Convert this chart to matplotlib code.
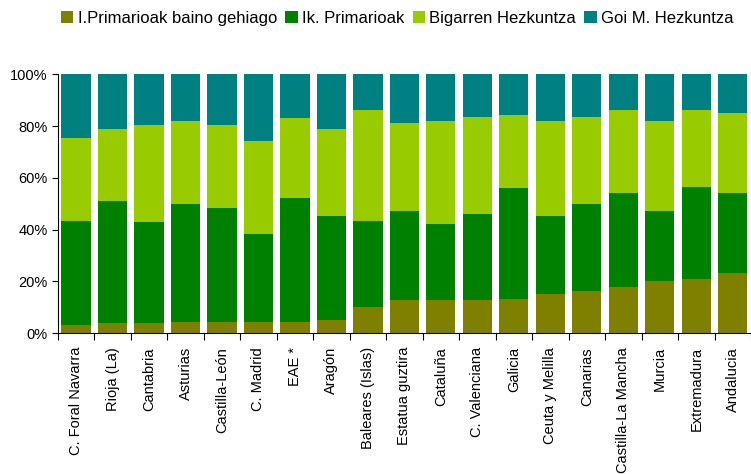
import matplotlib
matplotlib.use("Agg")
import matplotlib.pyplot as plt
import numpy as np
from matplotlib.ticker import PercentFormatter

regions = ["C. Foral Navarra", "Rioja (La)", "Cantabria", "Asturias", "Castilla-León",
           "C. Madrid", "EAE *", "Aragón", "Baleares (Islas)", "Estatua guztira",
           "Cataluña", "C. Valenciana", "Galicia", "Ceuta y Melilla", "Canarias",
           "Castilla-La Mancha", "Murcia", "Extremadura", "Andalucia"]

# cumulative tops (%)
top_primary_less = [3.2, 3.9, 3.9, 4.5, 4.5, 4.5, 4.5, 5.1, 10.2, 12.7,
                    12.7, 12.7, 13.4, 15.3, 16.5, 17.8, 20.3, 20.8, 23.4]
top_primary = [43.5, 51.0, 42.9, 49.8, 48.5, 38.5, 52.4, 45.4, 43.5, 47.2,
               42.2, 45.9, 56.1, 45.4, 49.8, 54.2, 47.2, 56.6, 54.2]
top_secondary = [75.5, 78.8, 80.6, 81.9, 80.6, 74.3, 83.0, 78.8, 86.2, 81.2,
                 81.9, 83.7, 84.3, 81.9, 83.7, 86.2, 81.9, 86.2, 84.9]

series_names = ["I.Primarioak baino gehiago", "Ik. Primarioak",
                "Bigarren Hezkuntza", "Goi M. Hezkuntza"]
colors = ["#808000", "#008000", "#99CC00", "#008080"]

tops = np.array([top_primary_less, top_primary, top_secondary, [100] * len(regions)])
bottoms = np.vstack([np.zeros(len(regions)), tops[:-1]])
heights = tops - bottoms

plt.rcParams["font.family"] = ["Liberation Sans", "DejaVu Sans"]

fig = plt.figure(figsize=(7.51, 4.74), dpi=100)
ax = fig.add_axes([0.077, 0.297, 0.923, 0.546])

x = np.arange(len(regions))
handles = []
for i in range(4):
    b = ax.bar(x, heights[i], bottom=bottoms[i], width=0.8, color=colors[i],
               label=series_names[i], linewidth=0)
    handles.append(b)

ax.set_xlim(-0.5, len(regions) - 0.5)
ax.set_ylim(0, 100)
ax.set_yticks([0, 20, 40, 60, 80, 100])
ax.yaxis.set_major_formatter(PercentFormatter(decimals=0))
ax.tick_params(axis="y", labelsize=10.5, length=4, direction="out")

# ticks at category boundaries, labels centered under bars
ax.set_xticks(np.arange(-0.5, len(regions), 1.0))
ax.set_xticklabels([])
ax.set_xticks(x, minor=True)
ax.set_xticklabels(regions, minor=True, rotation=90, fontsize=10.5)
ax.tick_params(axis="x", which="major", length=5, direction="out")
ax.tick_params(axis="x", which="minor", length=0, pad=10)

for s in ["top", "right"]:
    ax.spines[s].set_visible(False)

fig.legend(handles=handles, labels=series_names, loc="center", bbox_to_anchor=(0.529, 0.962),
           ncol=4, frameon=False, fontsize=12, handlelength=0.75, handleheight=0.75,
           handletextpad=0.25, columnspacing=0.5)

fig.savefig("out.png", dpi=100)
